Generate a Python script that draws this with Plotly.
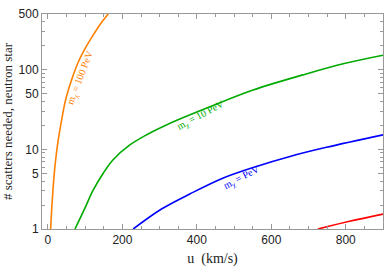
import math
import plotly.graph_objects as go

# ---- data ----
u_100pev = [7.2, 9.5, 12.6, 16.0, 20.7, 27.7, 36.8, 47.5, 63.6, 81.5, 100, 120, 140, 162]
n_100pev = [1.0, 1.6, 2.7, 4.4, 7.4, 13.2, 23.5, 41.9, 74.7, 125, 185, 265, 370, 500]

u_10pev = [72.5, 99.3, 121.7, 148.5, 175, 220, 265, 309.5, 354, 435, 551, 685, 793, 900]
n_10pev = [1.0, 1.83, 3.09, 5.01, 7.41, 11.35, 15.24, 19.36, 23.99, 34.28, 55.59, 86.1, 118.6, 152]

u_pev = [229, 305, 381, 471, 560, 650, 748, 900]
n_pev = [1.0, 1.78, 2.75, 4.37, 6.1, 8.15, 10.6, 15.2]

u_red = [725, 810, 900]
n_red = [1.0, 1.25, 1.54]

x_ticks = [0, 200, 400, 600, 800]
y_ticks = [1, 5, 10, 50, 100, 500]
y_minor = [2, 3, 4, 6, 7, 8, 9, 20, 30, 40, 60, 70, 80, 90, 200, 300, 400]

labels = ["m<sub>χ</sub> = 100 PeV", "m<sub>χ</sub> = 10 PeV", "m<sub>χ</sub> = PeV"]
label_u = [88, 411, 522]
label_n = [80, 26.6, 4.47]
label_angle = [-69, -28, -28]

orange = "rgb(255,128,0)"
green = "rgb(0,170,0)"
blue = "rgb(0,0,255)"
red = "rgb(255,0,0)"
colors = [orange, green, blue]

fig = go.Figure()
for u, n, c in [(u_100pev, n_100pev, orange), (u_10pev, n_10pev, green),
                (u_pev, n_pev, blue), (u_red, n_red, red)]:
    fig.add_trace(go.Scatter(x=u, y=n, mode="lines",
                             line=dict(color=c, width=1.6, shape="spline", smoothing=1.0),
                             showlegend=False, hoverinfo="skip"))

for t, uu, nn, a, c in zip(labels, label_u, label_n, label_angle, colors):
    fig.add_annotation(x=uu, y=math.log10(nn), text=t, textangle=a, showarrow=False,
                       font=dict(family="Liberation Serif", size=10, color=c))

frame = "#999999"
tickfont = dict(family="Liberation Sans", size=12, color="#222222")

fig.update_layout(
    width=390, height=273,
    margin=dict(l=42, r=7, t=14, b=44, autoexpand=False),
    paper_bgcolor="white", plot_bgcolor="white",
    xaxis=dict(range=[-16, 900], tickmode="array", tickvals=x_ticks, automargin=False,
               ticks="inside", ticklen=5, tickcolor=frame, tickwidth=1,
               minor=dict(dtick=50, tick0=0, ticks="inside", ticklen=3, tickcolor=frame),
               showgrid=False, zeroline=False, showline=True, linecolor=frame,
               mirror="allticks", tickfont=tickfont,
               title=dict(text="u  (km/s)", font=dict(family="Liberation Serif", size=14, color="#222222"),
                          standoff=6)),
    yaxis=dict(type="log", range=[0, math.log10(500)], tickmode="array", tickvals=y_ticks,
               ticktext=[str(v) for v in y_ticks], automargin=False,
               ticks="inside", ticklen=5, tickcolor=frame, tickwidth=1,
               minor=dict(tickmode="array", tickvals=y_minor, ticks="inside", ticklen=3, tickcolor=frame),
               showgrid=False, zeroline=False, showline=True, linecolor=frame,
               mirror="allticks", tickfont=tickfont,
               title=dict(text="# scatters needed, neutron star",
                          font=dict(family="Liberation Serif", size=13, color="#222222"),
                          standoff=4)),
)

fig.write_html("out.html", config={"displayModeBar": False},
               post_script="document.body.style.margin='0px';document.body.style.overflow='hidden';")
